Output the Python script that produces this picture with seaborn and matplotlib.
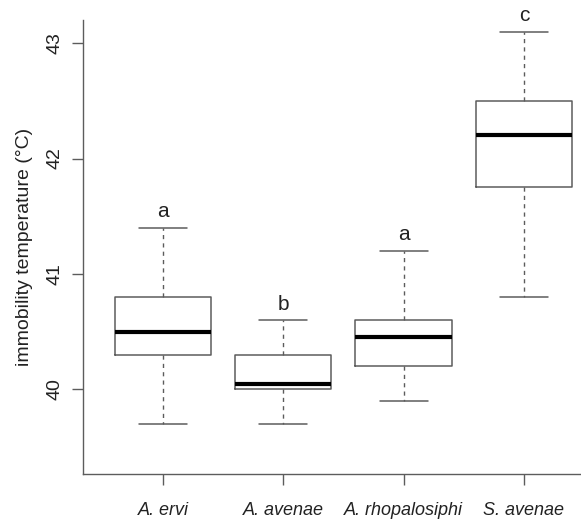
import matplotlib
matplotlib.use("Agg")
import numpy as np
import pandas as pd
import seaborn as sns
import matplotlib.pyplot as plt

species = ["A. ervi", "A. avenae", "A. rhopalosiphi", "S. avenae"]
whisker_low = [39.7, 39.7, 39.9, 40.8]
q1 = [40.3, 40.0, 40.2, 41.75]
median = [40.5, 40.05, 40.45, 42.2]
q3 = [40.8, 40.3, 40.6, 42.5]
whisker_high = [41.4, 40.6, 41.2, 43.1]
letters = ["a", "b", "a", "c"]
yticks = [40, 41, 42, 43]

rows = []
for i, s in enumerate(species):
    for v in (whisker_low[i], q1[i], median[i], q3[i], whisker_high[i]):
        rows.append({"species": s, "temp": v})
df = pd.DataFrame(rows)

sns.set_style("ticks")
plt.rcParams["font.family"] = ["Liberation Sans", "DejaVu Sans"]

gray = "#5c5c5c"
fig = plt.figure(figsize=(5.81, 5.20), dpi=100)
ax = fig.add_axes([83 / 581, 1 - 474 / 520, 1 - 83 / 581, (474 - 20) / 520])

sns.boxplot(
    data=df, x="species", y="temp", order=species, whis=(0, 100),
    width=0.8, fill=False, linecolor=gray, linewidth=1.1, showfliers=False,
    medianprops={"color": "black", "linewidth": 3.0},
    whiskerprops={"color": gray, "linestyle": (0, (3, 3)), "linewidth": 1.0},
    capprops={"color": gray, "linewidth": 1.1},
    boxprops={"color": gray, "linewidth": 1.1},
    ax=ax,
)

for i, (w, l) in enumerate(zip(whisker_high, letters)):
    ax.text(i, w + 0.09, l, ha="center", va="baseline", fontsize=15, color="#222222")

ax.set_xlim(-0.665, 3.475)
ax.set_ylim(39.267, 43.2)
ax.set_yticks(yticks)
ax.set_yticklabels([str(t) for t in yticks], rotation=90, va="center", fontsize=14, color="#222222")
ax.set_xticks(range(len(species)))
ax.set_xticklabels(species, fontsize=13, style="italic", color="#222222")
ax.tick_params(axis="both", length=8, width=1, color=gray)
ax.tick_params(axis="y", pad=6)
ax.tick_params(axis="x", pad=12)
ax.set_xlabel("")
ax.set_ylabel("immobility temperature (°C)", fontsize=14, color="#222222", labelpad=10)
for sp in ["top", "right"]:
    ax.spines[sp].set_visible(False)
for sp in ["left", "bottom"]:
    ax.spines[sp].set_color(gray)
    ax.spines[sp].set_linewidth(1)

fig.savefig("out.png", dpi=100)
